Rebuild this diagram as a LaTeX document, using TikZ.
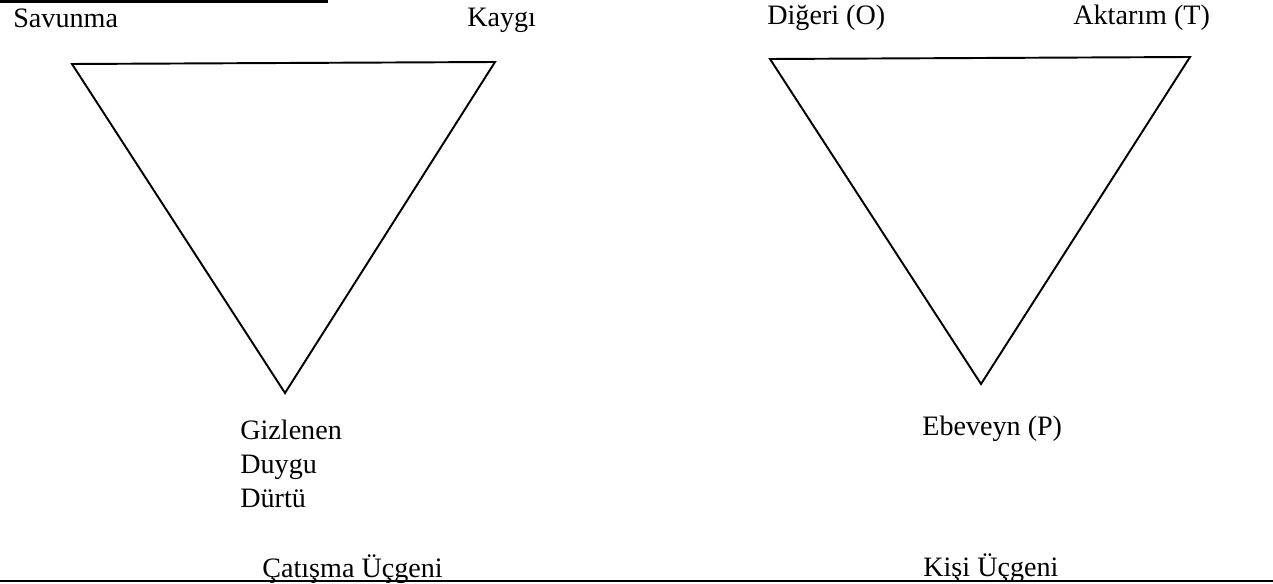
\documentclass[tikz,border=0pt]{standalone}
\usepackage{fontspec}
\setmainfont{Liberation Serif}
\usepackage{tikz}
\usetikzlibrary{positioning, calc}

\begin{document}
\begin{tikzpicture}[
    x=0.02cm, y=-0.02cm,
    lbl/.style={font=\fontsize{16}{19.3}\selectfont, inner sep=0pt, anchor=base west},
    side/.style={line width=1.1pt, line join=miter},
    rule/.style={line width=1.2pt}
]
\useasboundingbox (0,0) rectangle (1273,584);

% Page rules
\draw[rule] (0,1.5) -- (328,1.5);
\draw[rule] (0,581) -- (1273,581);

% Conflict triangle
\coordinate (def) at (72,64);
\coordinate (anx) at (495,62);
\coordinate (hid) at (285,393);
\draw[side] (def) -- (anx) -- (hid) -- cycle;

\node[lbl] (savunma) at (13,28) {Savunma};
\node[lbl] (kaygi) at (467,27) {Kaygı};
% base of a multi-line node sits on its last line
\node[lbl, align=left] (gizlenen) at (240,507) {Gizlenen\\Duygu\\Dürtü};
\node[lbl] (catisma) at (262,577) {Çatışma Üçgeni};

% Person triangle
\coordinate (oth) at (770,59);
\coordinate (tra) at (1190,57);
\coordinate (par) at (981,384);
\draw[side] (oth) -- (tra) -- (par) -- cycle;

\node[lbl] (digeri) at (767,25) {Diğeri (O)};
\node[lbl] (aktarim) at (1073,25) {Aktarım (T)};
\node[lbl] (ebeveyn) at (922,435) {Ebeveyn (P)};
\node[lbl] (kisi) at (923,576) {Kişi Üçgeni};
\end{tikzpicture}
\end{document}
